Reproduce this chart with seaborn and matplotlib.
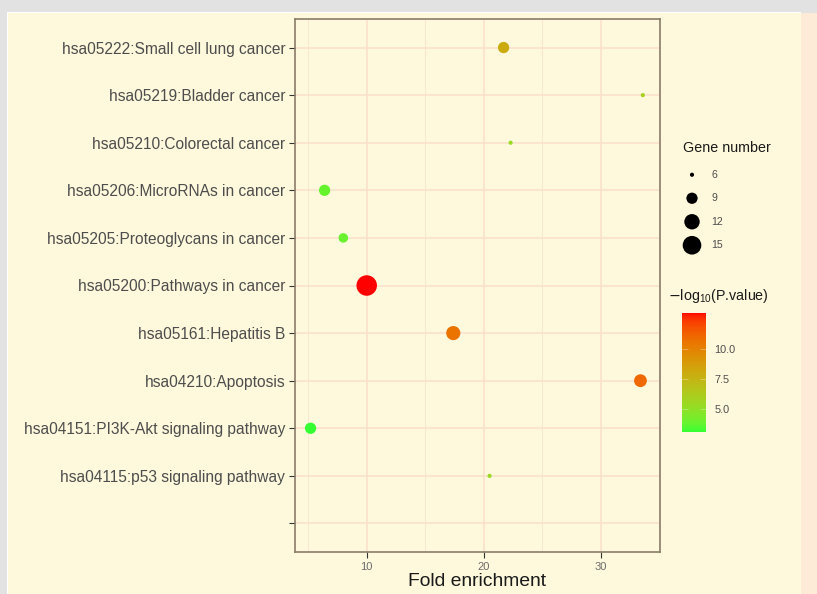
import numpy as np
import pandas as pd
import matplotlib.pyplot as plt
import matplotlib as mpl
from matplotlib.colors import ListedColormap, Normalize
from matplotlib.patches import Rectangle
import seaborn as sns

# KEGG terms, top to bottom ("" is the empty bottom level)
pathways = [
    "hsa05222:Small cell lung cancer",
    "hsa05219:Bladder cancer",
    "hsa05210:Colorectal cancer",
    "hsa05206:MicroRNAs in cancer",
    "hsa05205:Proteoglycans in cancer",
    "hsa05200:Pathways in cancer",
    "hsa05161:Hepatitis B",
    "hsa04210:Apoptosis",
    "hsa04151:PI3K-Akt signaling pathway",
    "hsa04115:p53 signaling pathway",
    "",
]
fold_enrichment = [21.7, 33.6, 22.3, 6.4, 8.0, 10.0, 17.4, 33.4, 5.2, 20.5]
gene_number = [9, 6, 6, 9, 8, 17, 11, 10, 9, 6]
neg_log_p = [8.0, 6.0, 5.3, 3.8, 3.9, 13.0, 10.6, 11.0, 3.06, 5.5]

legend_genes = [6, 9, 12, 15]
cbar_ticks = [5.0, 7.5, 10.0]


def srgb_to_lab(rgb):
    c = np.asarray(rgb, float)
    c = np.where(c <= 0.04045, c / 12.92, ((c + 0.055) / 1.055) ** 2.4)
    m = np.array([[0.4124, 0.3576, 0.1805],
                  [0.2126, 0.7152, 0.0722],
                  [0.0193, 0.1192, 0.9505]])
    xyz = m @ c / np.array([0.95047, 1.0, 1.08883])
    d = 6 / 29
    f = np.where(xyz > d ** 3, np.cbrt(xyz), xyz / (3 * d * d) + 4 / 29)
    return np.array([116 * f[1] - 16, 500 * (f[0] - f[1]), 200 * (f[1] - f[2])])


def lab_to_srgb(lab):
    L, a, b = lab
    fy = (L + 16) / 116
    fx = fy + a / 500
    fz = fy - b / 200
    d = 6 / 29
    f = np.array([fx, fy, fz])
    xyz = np.where(f > d, f ** 3, 3 * d * d * (f - 4 / 29)) * np.array([0.95047, 1.0, 1.08883])
    m = np.array([[3.2406, -1.5372, -0.4986],
                  [-0.9689, 1.8758, 0.0415],
                  [0.0557, -0.2040, 1.0570]])
    c = np.clip(m @ xyz, 0, 1)
    c = np.where(c <= 0.0031308, 12.92 * c, 1.055 * c ** (1 / 2.4) - 0.055)
    return np.clip(c, 0, 1)


# ggplot-style green -> red gradient, interpolated in Lab
low, high = srgb_to_lab([0.2, 1, 0.2]), srgb_to_lab([1, 0, 0])
cmap = ListedColormap([lab_to_srgb(low + t * (high - low)) for t in np.linspace(0, 1, 256)])
hue_lim = (min(neg_log_p), max(neg_log_p))
size_lim = (6, 17)
size_range = (9, 218)

plt.rcParams['font.family'] = ['Liberation Sans', 'DejaVu Sans']

W, H = 817, 594
fig = plt.figure(figsize=(W / 100, H / 100), dpi=100)
fig.patch.set_facecolor('#e2e2e2')
fig.patches.append(Rectangle((7 / W, 0), (801 - 7) / W, 1 - 12 / H, transform=fig.transFigure,
                             facecolor='white', edgecolor='none', zorder=-3))
fig.patches.append(Rectangle((8 / W, 0), (801 - 8) / W, 1 - 13 / H, transform=fig.transFigure,
                             facecolor='#fef9dc', edgecolor='none', zorder=-2))
fig.patches.append(Rectangle((801 / W, 0), 16 / W, 1 - 13 / H, transform=fig.transFigure,
                             facecolor='#fdebd7', edgecolor='none', zorder=-2))

ax = fig.add_axes([295 / W, 1 - 552 / H, 365 / W, 533 / H])
ax.set_facecolor('#fef9dc')

df = pd.DataFrame({
    'pathway': pathways[:-1],
    'pos': range(len(pathways) - 1),
    'fold': fold_enrichment,
    'genes': gene_number,
    'logp': neg_log_p,
})

sns.scatterplot(data=df, x='fold', y='pos', hue='logp', size='genes',
                palette=cmap, hue_norm=hue_lim, sizes=size_range, size_norm=size_lim,
                linewidth=0, legend=False, ax=ax, zorder=3)

ax.set_xlim(3.87, 35.07)
ax.set_ylim(len(pathways) - 1 + 0.6, -0.6)
ax.set_yticks(range(len(pathways)))
ax.set_yticklabels(pathways)
ax.set_xticks([10, 20, 30])
ax.set_xticks([5, 15, 25, 35], minor=True)
ax.set_axisbelow(True)
ax.grid(which='major', color='#fbdfca', lw=1.1)
ax.grid(which='minor', axis='x', color='#fbe6d2', lw=0.7)
ax.tick_params(which='minor', length=0)
ax.tick_params(axis='y', labelsize=11.2, labelcolor='#4d4d4d', color='#333333', length=4, width=0.8, pad=3)
ax.tick_params(axis='x', labelsize=8, labelcolor='#6b6b6b', color='#333333', length=4, width=0.8, pad=3)
ax.set_xlabel('Fold enrichment', fontsize=13.9, color='#1a1a1a', labelpad=1)
ax.set_ylabel('')
for s in ax.spines.values():
    s.set_color('#8a7d68')
    s.set_linewidth(1.2)

# size legend
fig.text(683 / W, 1 - 148 / H, 'Gene number', fontsize=10.3, color='#1a1a1a', va='center', ha='left')
lax = fig.add_axes([680 / W, 1 - 257 / H, 40 / W, 94 / H])
lax.axis('off')
sns.scatterplot(x=[0.3] * len(legend_genes), y=list(range(len(legend_genes))), size=legend_genes,
                sizes=size_range, size_norm=size_lim, color='black', linewidth=0, legend=False, ax=lax)
lax.set_xlim(0, 1)
lax.set_ylim(len(legend_genes) - 0.5, -0.5)
for i, g in enumerate(legend_genes):
    lax.text(0.78, i, str(g), fontsize=7.6, color='#4d4d4d', va='center', ha='left')

# colour bar
fig.text(668 / W, 1 - 296 / H, r'$-\mathregular{log_{10}}$(P.value)', fontsize=10.3, color='#1a1a1a',
         va='center', ha='left')
cax = fig.add_axes([682 / W, 1 - 432 / H, 24 / W, 119 / H])
cb = fig.colorbar(mpl.cm.ScalarMappable(norm=Normalize(*hue_lim), cmap=cmap), cax=cax)
cb.outline.set_visible(False)
cb.set_ticks(cbar_ticks)
cb.set_ticklabels([f'{t:.1f}' for t in cbar_ticks])
cax.tick_params(axis='y', direction='in', left=True, right=True, color=(1, 1, 1, 0.35), length=4, width=0.6,
                labelsize=7.8, labelcolor='#4d4d4d', pad=6)

fig.savefig('out.png', dpi=100, facecolor=fig.get_facecolor())
